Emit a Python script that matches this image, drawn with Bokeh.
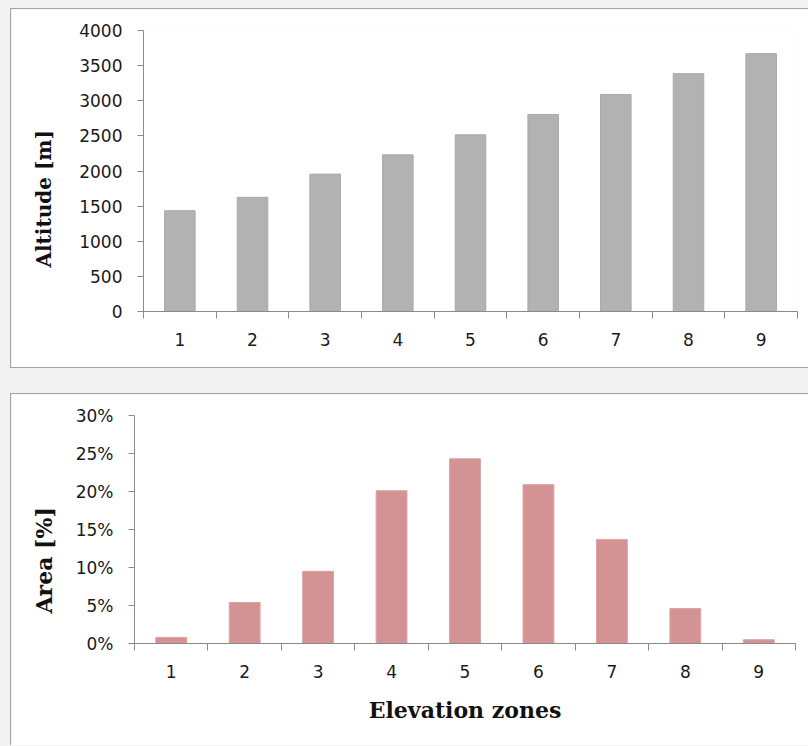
from bokeh.plotting import figure
from bokeh.layouts import column
from bokeh.models import FixedTicker, NumeralTickFormatter, Range1d, ColumnDataSource, Title
from bokeh.embed import file_html
from bokeh.resources import INLINE

# ---- data ----
zones = [1, 2, 3, 4, 5, 6, 7, 8, 9]
altitude_m = [1435, 1625, 1955, 2230, 2515, 2805, 3090, 3385, 3670]
area_frac = [0.008, 0.054, 0.095, 0.201, 0.243, 0.209, 0.137, 0.046, 0.005]
alt_ticks = [0, 500, 1000, 1500, 2000, 2500, 3000, 3500, 4000]
area_ticks = [0.0, 0.05, 0.10, 0.15, 0.20, 0.25, 0.30]
zone_edges = [0.5, 1.5, 2.5, 3.5, 4.5, 5.5, 6.5, 7.5, 8.5, 9.5]

TICK_FONT = "DejaVu Sans"
TITLE_FONT = "DejaVu Serif"
AXIS_COL = "#8a8a8a"
BORDER = "1.5px solid #a3a3a3"


def style(p, yticks, xlabel=None):
    p.xgrid.visible = False
    p.ygrid.visible = False
    p.outline_line_color = None
    p.background_fill_color = "white"
    p.border_fill_color = "white"
    xa = p.xaxis[0]
    xa.ticker = FixedTicker(ticks=zones, minor_ticks=zone_edges)
    xa.major_tick_line_color = None
    xa.major_tick_out = 0
    xa.major_tick_in = 0
    xa.minor_tick_line_color = AXIS_COL
    xa.minor_tick_out = 7
    xa.minor_tick_in = 0
    xa.axis_line_color = AXIS_COL
    xa.major_label_text_font = TICK_FONT
    xa.major_label_text_font_size = "17px"
    xa.major_label_text_color = "#1a1a1a"
    xa.major_label_standoff = 14
    if xlabel:
        xa.axis_label = xlabel
        xa.axis_label_text_font = TITLE_FONT
        xa.axis_label_text_font_style = "bold"
        xa.axis_label_text_font_size = "22px"
        xa.axis_label_text_color = "#111111"
        xa.axis_label_standoff = 16
    ya = p.yaxis[0]
    ya.ticker = FixedTicker(ticks=yticks, minor_ticks=[])
    ya.major_tick_line_color = AXIS_COL
    ya.major_tick_out = 6
    ya.major_tick_in = 0
    ya.minor_tick_line_color = None
    ya.axis_line_color = AXIS_COL
    ya.major_label_text_font = TICK_FONT
    ya.major_label_text_font_size = "17px"
    ya.major_label_text_color = "#1a1a1a"
    ya.major_label_standoff = 15


def ytitle(p, text, offset, size, standoff):
    p.add_layout(Title(text=text, align="left", offset=offset, vertical_align="top",
                       standoff=standoff, text_font=TITLE_FONT, text_font_style="bold",
                       text_font_size=size, text_color="#111111"), "left")


src1 = ColumnDataSource(dict(x=zones, y=altitude_m))
p1 = figure(width=798, height=360, output_backend="svg", toolbar_location=None,
            x_range=Range1d(0.5, 9.5), y_range=Range1d(0, 4000), frame_align=False,
            min_border_left=132, min_border_right=12, min_border_top=21, min_border_bottom=58)
p1.vbar(x="x", top="y", width=0.42, source=src1, fill_color="#b2b2b2", line_color="#a8a8a8")
style(p1, alt_ticks)
ytitle(p1, "Altitude [m]", 44, "20px", 37)
p1.margin = (8, 0, 0, 10)
p1.styles = {"border-left": BORDER, "border-top": BORDER, "border-bottom": BORDER}

src2 = ColumnDataSource(dict(x=zones, y=area_frac))
p2 = figure(width=798, height=352, output_backend="svg", toolbar_location=None,
            x_range=Range1d(0.5, 9.5), y_range=Range1d(0, 0.30), frame_align=False,
            min_border_left=123, min_border_right=14, min_border_top=21, min_border_bottom=103)
p2.vbar(x="x", top="y", width=0.42, source=src2, fill_color="#d39294", line_color="#dca3a5")
style(p2, area_ticks, xlabel="Elevation zones")
ytitle(p2, "Area [%]", 30, "22px", 28)
p2.yaxis[0].formatter = NumeralTickFormatter(format="0%")
p2.margin = (25, 0, 0, 10)
p2.styles = {"border-left": BORDER, "border-top": BORDER}

layout = column(p1, p2, width=808, height=746, spacing=0,
                styles={"background-color": "#f2f2f2"})

open("out.html", "w").write(file_html(layout, INLINE))
